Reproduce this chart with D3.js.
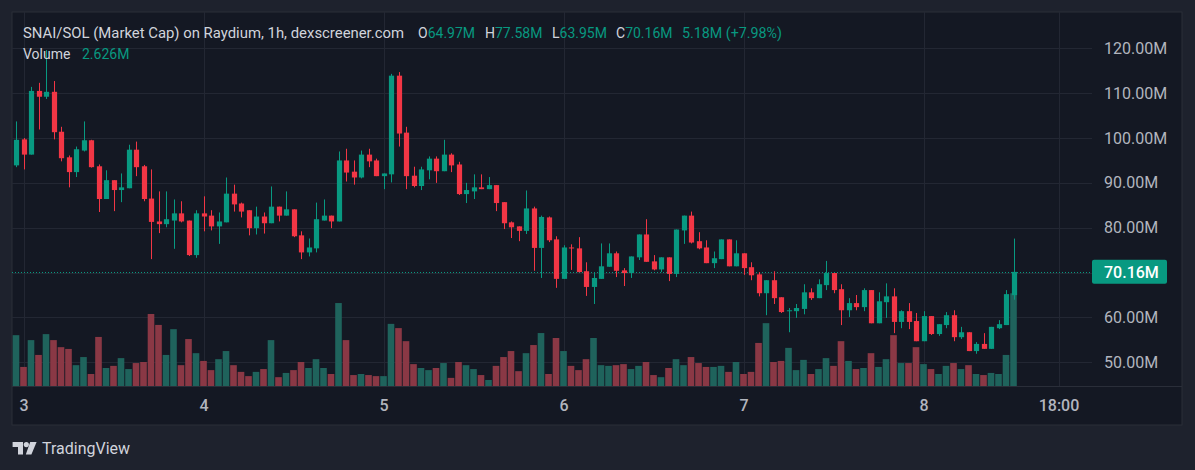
<!DOCTYPE html>
<html>
<head>
<meta charset="utf-8">
<script src="https://cdn.jsdelivr.net/npm/d3@7"></script>
<style>
  html, body { margin: 0; padding: 0; background: #1e222d; }
  svg { display: block; font-family: Roboto, "Noto Sans", sans-serif; }
</style>
</head>
<body>
<svg id="chart" width="1195" height="470"></svg>
<script>
// hourly candles, first one is 2 Jan 23:00, last one 8 Jan 12:00
const startTime = new Date(2025, 0, 2, 23);

const opens = [93.9, 99.7, 96.3, 110.5, 109.2, 110.3, 101.4, 95.7, 92.4, 97.2, 99.5, 93.7, 86.4, 90.6, 88.4, 88.8,
  97.4, 93.7, 86.5, 81.4, 80.8, 81.6, 83.2, 81.6, 73.9, 83.2, 82.7, 80.3, 81.2, 87.6, 85.4,
  83.9, 79.9, 82.5, 81.0, 84.7, 82.7, 84.1, 78.3, 74.5, 75.4, 81.6, 82.7, 81.4, 95.0, 92.5,
  91.2, 96.3, 95.0, 91.5, 91.9, 113.9, 101.2, 91.6, 89.3, 92.8, 95.4, 92.6, 96.3, 94.1, 87.5, 88.1,
  89.0, 88.6, 89.5, 85.7, 81.2, 80.3, 79.3, 84.3, 75.5, 82.3, 77.4, 68.6, 75.6, 75.4, 70.3, 66.8,
  68.6, 71.3, 74.3, 70.5, 69.9, 73.4, 78.5, 72.5, 70.7, 73.4, 69.7, 79.4, 82.7, 77.0, 75.6, 72.1,
  73.0, 77.4, 71.4, 74.3, 71.2, 69.6, 65.4, 68.3, 64.5, 61.4, 61.4, 61.9, 65.6, 64.3, 67.2,
  69.9, 66.3, 61.6, 63.2, 62.3, 66.1, 58.7, 63.4, 64.7, 59.0, 61.4, 59.2, 54.7, 60.3, 56.3, 58.3,
  60.5, 55.6, 56.7, 52.5, 54.1, 53.0, 57.6, 58.3, 64.97];
const highs = [103.7, 100.0, 111.4, 112.3, 119.6, 112.7, 102.5, 96.1, 98.1, 103.7, 99.6, 94.1, 92.8, 90.6, 92.1, 98.5,
  99.2, 94.0, 93.0, 88.1, 88.1, 86.3, 85.9, 81.6, 83.9, 87.0, 83.9, 83.4, 91.2, 89.6, 85.6,
  83.9, 84.7, 83.4, 89.2, 84.7, 88.1, 84.1, 79.2, 77.6, 85.6, 86.3, 82.7, 97.0, 97.6, 95.0,
  97.2, 97.6, 95.4, 92.1, 114.3, 114.7, 102.5, 93.6, 93.6, 95.9, 95.9, 99.6, 96.6, 94.7, 90.0, 91.9,
  91.9, 91.3, 89.5, 85.7, 81.4, 80.3, 88.3, 84.7, 82.7, 82.5, 78.1, 76.1, 76.3, 77.9, 72.3, 69.9,
  76.5, 76.5, 74.7, 71.0, 73.6, 78.5, 81.9, 73.9, 73.4, 73.4, 79.6, 82.7, 83.6, 79.0, 77.2, 74.7,
  77.4, 77.4, 77.2, 74.3, 72.3, 70.1, 68.3, 70.3, 64.5, 62.1, 63.0, 67.4, 66.5, 68.5, 72.6,
  69.9, 67.4, 64.3, 65.0, 66.5, 66.1, 65.6, 67.6, 66.5, 61.6, 63.2, 61.0, 61.4, 60.3, 58.5, 61.2,
  61.6, 57.9, 56.7, 54.5, 56.5, 57.9, 59.4, 66.1, 77.58];
const lows = [93.5, 93.0, 96.3, 101.9, 108.7, 99.7, 94.8, 89.0, 91.3, 97.0, 93.4, 83.5, 86.4, 83.7, 85.7, 88.8,
  91.5, 85.9, 73.0, 78.8, 80.1, 75.3, 81.2, 73.7, 73.3, 79.2, 79.4, 76.4, 81.2, 83.6, 82.3,
  78.3, 78.5, 78.7, 81.0, 81.4, 82.7, 77.9, 73.0, 73.6, 74.5, 81.6, 79.9, 81.4, 90.3, 89.6,
  91.0, 93.5, 91.5, 88.6, 90.1, 98.1, 88.6, 89.0, 88.4, 90.8, 90.0, 92.6, 92.4, 87.3, 85.5, 86.4,
  88.6, 88.6, 83.7, 79.7, 77.7, 77.0, 78.6, 70.4, 68.8, 76.8, 66.6, 68.6, 70.6, 70.1, 64.8, 63.0,
  68.6, 71.3, 69.0, 67.0, 68.8, 72.8, 72.4, 70.5, 70.1, 68.1, 69.0, 76.4, 76.5, 75.2, 72.1, 71.0,
  73.0, 71.4, 71.4, 69.5, 68.3, 64.7, 60.5, 63.0, 61.0, 56.7, 59.9, 60.7, 63.9, 64.3, 66.1,
  65.4, 58.3, 60.1, 61.6, 61.4, 58.7, 58.7, 59.9, 56.5, 57.6, 57.4, 54.7, 54.7, 56.1, 55.9, 57.6,
  54.7, 55.2, 52.5, 51.9, 53.0, 53.0, 57.4, 58.3, 63.95];
const closes = [99.6, 96.3, 110.5, 109.2, 110.3, 101.3, 95.5, 92.4, 97.5, 99.5, 93.5, 86.4, 90.6, 88.4, 89.0, 97.4,
  93.5, 86.4, 81.3, 80.8, 81.9, 83.2, 81.4, 73.9, 83.2, 82.5, 80.3, 81.4, 87.6, 85.2, 83.6,
  79.9, 82.5, 81.0, 84.7, 82.7, 84.1, 78.1, 74.5, 75.6, 81.9, 82.7, 81.4, 95.0, 92.3, 91.2,
  96.3, 94.8, 91.5, 92.1, 113.9, 101.0, 91.5, 89.3, 93.0, 95.4, 92.6, 96.3, 93.9, 87.5, 88.4, 89.0,
  88.6, 89.5, 85.5, 81.0, 80.1, 79.3, 84.3, 75.5, 82.4, 77.2, 68.6, 75.6, 75.5, 70.1, 66.8, 68.8,
  71.4, 74.3, 70.4, 69.9, 73.6, 78.5, 72.4, 70.7, 73.4, 69.7, 79.6, 82.7, 76.7, 75.4, 72.1, 73.2,
  77.4, 71.4, 74.3, 71.0, 69.4, 65.4, 68.3, 64.3, 61.2, 61.6, 62.1, 65.6, 64.3, 67.4, 69.9,
  66.1, 61.6, 63.2, 62.3, 66.1, 58.7, 63.6, 64.7, 59.0, 61.4, 59.0, 54.7, 60.3, 56.3, 58.5, 60.5,
  55.6, 56.7, 52.5, 54.1, 53.0, 57.9, 58.5, 65.2, 70.16];
// volume in millions
const volumes = [1.44, 0.54, 1.30, 0.88, 1.47, 1.30, 1.10, 1.05, 0.59, 0.82, 0.34, 1.39, 0.51, 0.57, 0.79, 0.48,
  0.65, 0.68, 2.04, 1.73, 0.88, 1.61, 0.59, 1.33, 0.93, 0.71, 0.45, 0.76, 0.99, 0.59, 0.40,
  0.28, 0.40, 0.48, 1.30, 0.25, 0.37, 0.45, 0.68, 0.51, 0.76, 0.51, 0.34, 2.35, 1.30, 0.31,
  0.34, 0.31, 0.28, 0.28, 1.76, 1.64, 1.27, 0.62, 0.51, 0.45, 0.51, 0.65, 0.23, 0.68, 0.59, 0.48,
  0.31, 0.17, 0.57, 0.82, 0.99, 0.42, 0.93, 1.16, 1.50, 0.34, 1.36, 0.99, 0.57, 0.45, 0.76, 1.36,
  0.59, 0.57, 0.59, 0.62, 0.48, 0.57, 0.68, 0.31, 0.25, 0.51, 0.76, 0.59, 0.82, 0.65, 0.54, 0.54,
  0.57, 0.40, 0.68, 0.34, 0.40, 1.22, 1.78, 0.68, 0.71, 1.08, 0.45, 0.74, 0.34, 0.48, 0.79,
  0.57, 1.27, 0.71, 0.48, 0.51, 0.93, 0.54, 0.76, 1.44, 0.65, 0.65, 1.10, 0.62, 0.48, 0.34, 0.57,
  0.65, 0.48, 0.59, 0.34, 0.31, 0.37, 0.34, 0.88, 2.626];

const priceTicks = [50, 60, 70, 80, 90, 100, 110, 120];
const timeTicks = [new Date(2025, 0, 3), new Date(2025, 0, 4), new Date(2025, 0, 5), new Date(2025, 0, 6),
  new Date(2025, 0, 7), new Date(2025, 0, 8), new Date(2025, 0, 8, 18)];
const timeLabels = ['3', '4', '5', '6', '7', '8', '18:00'];

const UP = '#089981', DOWN = '#f23645';
const UP_VOL = '#1f635c', DOWN_VOL = '#8a3845';
const TEXT = '#b2b5be', GRID = '#232733';

const svg = d3.select('#chart');
const pane = { left: 12, right: 1092, top: 12, bottom: 386 };
const panelRight = 1182, panelBottom = 425;

const candles = opens.map((o, i) => ({
  t: d3.timeHour.offset(startTime, i), o, h: highs[i], l: lows[i], c: closes[i], v: volumes[i]
}));
const last = candles[candles.length - 1];

const x = d3.scaleTime()
  .domain([new Date(2025, 0, 3), new Date(2025, 0, 8, 18)])
  .range([23.5, 1058.5]);
const y = d3.scaleLinear().domain([50, 120]).range([362.3, 48.3]);
const yVol = d3.scaleLinear().domain([0, 2.626]).range([pane.bottom, 293.3]);
const step = x(d3.timeHour.offset(x.domain()[0], 1)) - x(x.domain()[0]);

// panel
svg.append('rect').attr('x', pane.left).attr('y', pane.top)
  .attr('width', panelRight - pane.left).attr('height', panelBottom - pane.top)
  .attr('fill', '#141823').attr('stroke', '#2a2e39').attr('stroke-width', 1);

// grid
const grid = svg.append('g').attr('stroke', GRID).attr('stroke-width', 1);
grid.selectAll('line.h').data(priceTicks).enter().append('line')
  .attr('x1', pane.left).attr('x2', pane.right)
  .attr('y1', d => Math.round(y(d)) + 0.5).attr('y2', d => Math.round(y(d)) + 0.5);
grid.selectAll('line.v').data(timeTicks).enter().append('line')
  .attr('y1', pane.top).attr('y2', pane.bottom)
  .attr('x1', d => Math.round(x(d)) + 0.5).attr('x2', d => Math.round(x(d)) + 0.5);

// time axis separator
svg.append('line').attr('x1', pane.left).attr('x2', panelRight)
  .attr('y1', pane.bottom + 0.5).attr('y2', pane.bottom + 0.5).attr('stroke', '#2a2e39');

// volume
svg.append('g').selectAll('rect').data(candles).enter().append('rect')
  .attr('x', d => x(d.t) - step * 0.44)
  .attr('width', step * 0.88)
  .attr('y', d => yVol(d.v))
  .attr('height', d => pane.bottom - yVol(d.v))
  .attr('fill', d => d.c >= d.o ? UP_VOL : DOWN_VOL);

// last price line
svg.append('line').attr('x1', pane.left).attr('x2', pane.right)
  .attr('y1', Math.round(y(last.c)) + 0.5).attr('y2', Math.round(y(last.c)) + 0.5)
  .attr('stroke', UP).attr('stroke-width', 1).attr('stroke-dasharray', '1,2');

// candles
const cg = svg.append('g').selectAll('g').data(candles).enter().append('g')
  .attr('fill', d => d.c >= d.o ? UP : DOWN)
  .attr('stroke', d => d.c >= d.o ? UP : DOWN);
cg.append('line')
  .attr('x1', d => Math.round(x(d.t)) + 0.5).attr('x2', d => Math.round(x(d.t)) + 0.5)
  .attr('y1', d => y(d.h)).attr('y2', d => y(d.l)).attr('stroke-width', 1);
cg.append('rect')
  .attr('stroke', 'none')
  .attr('x', d => Math.round(x(d.t)) + 0.5 - 2.6)
  .attr('width', 5.2)
  .attr('y', d => y(Math.max(d.o, d.c)))
  .attr('height', d => Math.max(1, Math.abs(y(d.o) - y(d.c))));

// price axis
const yAxis = svg.append('g').attr('transform', `translate(${pane.right},0)`)
  .call(d3.axisRight(y).tickValues(priceTicks).tickSize(0).tickPadding(12)
    .tickFormat(d => d3.format('.2f')(d) + 'M'));
yAxis.select('.domain').remove();
yAxis.selectAll('text').attr('fill', TEXT).attr('font-size', 16).attr('font-family', 'Roboto, sans-serif');

// last price badge
const badge = svg.append('g');
badge.append('rect').attr('x', pane.right).attr('y', y(last.c) - 12)
  .attr('width', 75).attr('height', 24).attr('rx', 2).attr('fill', UP);
badge.append('text').attr('x', pane.right + 12).attr('y', y(last.c) + 6)
  .attr('fill', '#ffffff').attr('font-size', 16).attr('font-weight', 500)
  .text(d3.format('.2f')(last.c) + 'M');

// time axis
const xAxis = svg.append('g').attr('transform', `translate(0,${pane.bottom})`)
  .call(d3.axisBottom(x).tickValues(timeTicks).tickSize(0).tickPadding(14)
    .tickFormat((d, i) => timeLabels[i]));
xAxis.select('.domain').remove();
xAxis.selectAll('text').attr('fill', TEXT).attr('font-size', 16).attr('font-weight', 500)
  .attr('font-family', 'Roboto, sans-serif');

// legend
const fmt = v => d3.format('.2f')(v) + 'M';
const legend = svg.append('g').attr('font-size', 14);
legend.append('text').attr('x', 23).attr('y', 38).attr('fill', '#d1d4dc')
  .attr('textLength', 381).attr('lengthAdjust', 'spacingAndGlyphs')
  .text('SNAI/SOL (Market Cap) on Raydium, 1h, dexscreener.com');
[['O', fmt(last.o), 418], ['H', fmt(last.h), 485], ['L', fmt(last.l), 552], ['C', fmt(last.c), 616]]
  .forEach(([k, v, px]) => {
    const t = legend.append('text').attr('x', px).attr('y', 38);
    t.append('tspan').attr('fill', '#d1d4dc').text(k);
    t.append('tspan').attr('fill', UP).text(v);
  });
legend.append('text').attr('x', 682).attr('y', 38).attr('fill', UP)
  .attr('textLength', 100).attr('lengthAdjust', 'spacingAndGlyphs').text('5.18M (+7.98%)');
legend.append('text').attr('x', 23).attr('y', 59).attr('fill', '#d1d4dc').text('Volume');
legend.append('text').attr('x', 82).attr('y', 59).attr('fill', UP).text(d3.format('.3f')(last.v) + 'M');

// TradingView mark
const tv = svg.append('g').attr('fill', '#d1d4dc');
tv.append('path').attr('d', 'M12.6,442 H23 V454.5 H18 V447 H12.6 Z');
tv.append('circle').attr('cx', 26.3).attr('cy', 444.6).attr('r', 2.6);
tv.append('path').attr('d', 'M30.2,442 H36.6 L31.4,454.5 H25.8 Z');
svg.append('text').attr('x', 42).attr('y', 454).attr('fill', '#d1d4dc')
  .attr('font-size', 16).attr('textLength', 88).attr('lengthAdjust', 'spacingAndGlyphs')
  .text('TradingView');
</script>
</body>
</html>
